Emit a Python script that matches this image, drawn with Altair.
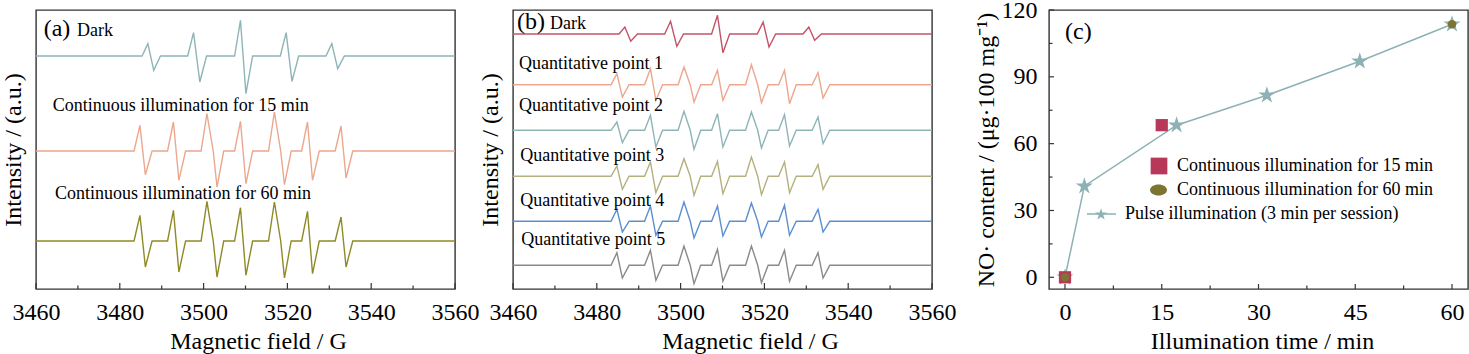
import altair as alt
import pandas as pd

FONT = "Liberation Serif"

# ---------------- data ----------------
# EPR line positions (G): maxima and minima of each derivative line
dark_field_max = [3486.7, 3497.6, 3508.8, 3519.7, 3530.6]
dark_field_min = [3488.1, 3499.1, 3510.1, 3521.1, 3532.0]
seven_field_max = [3484.8, 3492.8, 3500.8, 3508.8, 3516.9, 3524.8, 3532.8]
seven_field_min = [3486.1, 3494.1, 3503.2, 3510.1, 3519.3, 3526.0, 3534.0]
shoulder_index = [2, 4]
shoulder_field = [3502.3, 3518.4]
rise_g = 1.4
fall_g = 1.6
field_start, field_end = 3460, 3560

# panel (a) intensities (a.u.)
a_dark_base = 233
a_dark_top = [245.3, 256.3, 268.7, 256.3, 245.3]
a_dark_bot = [218.7, 207.0, 195.3, 207.7, 220.3]
a_15_base = 138
a_15_top = [163.7, 167.0, 175.3, 167.7, 177.0, 167.0, 163.0]
a_15_bot = [114.3, 108.7, 102.0, 105.3, 104.3, 108.7, 111.0]
a_60_base = 48
a_60_top = [73.7, 78.7, 87.7, 81.3, 87.0, 77.7, 72.0]
a_60_bot = [22.0, 17.0, 12.0, 13.7, 11.0, 15.3, 22.0]

# panel (b) intensities (a.u.)
b_dark_base = 255
b_dark_top = [262.0, 267.7, 273.7, 267.0, 262.0]
b_dark_bot = [247.7, 242.7, 236.3, 242.0, 248.7]
b_q1_base = 204.3
b_q1_top = [215.3, 220.3, 222.0, 218.7, 224.3, 218.7, 216.3]
b_q1_bot = [192.0, 188.7, 187.0, 188.7, 186.3, 185.3, 191.0]
b_q2_base = 158.7
b_q2_top = [167.0, 173.7, 177.7, 175.3, 177.0, 174.3, 172.0]
b_q2_bot = [146.3, 142.0, 139.7, 142.0, 141.0, 143.0, 145.3]
b_q3_base = 112.7
b_q3_top = [123.0, 127.0, 130.3, 127.7, 132.0, 127.0, 124.3]
b_q3_bot = [99.7, 96.3, 93.7, 95.3, 94.3, 96.3, 99.7]
b_q4_base = 67.7
b_q4_top = [79.7, 83.0, 87.0, 83.0, 86.0, 83.7, 79.7]
b_q4_bot = [57.0, 53.7, 51.0, 53.0, 52.0, 53.7, 57.0]
b_q5_base = 23.7
b_q5_top = [36.3, 38.7, 43.0, 39.7, 43.0, 38.7, 36.3]
b_q5_bot = [11.0, 8.7, 5.3, 7.7, 6.3, 7.7, 11.0]

# panel (c)
pulse_time = [0, 3, 17.3, 31.3, 45.7, 60]
pulse_no = [0, 40.9, 68.3, 81.7, 97.0, 113.6]
cont15_time = [0, 15]
cont15_no = [0, 68.3]
cont60_time = [0, 60]
cont60_no = [0, 113.6]

ab_major = [3460, 3480, 3500, 3520, 3540, 3560]
ab_minor = [3470, 3490, 3510, 3530, 3550]
c_x_major = [0, 15, 30, 45, 60]
c_x_minor = [7.5, 22.5, 37.5, 52.5]
c_y_major = [0, 30, 60, 90, 120]
c_y_minor = [15, 45, 75, 105]

a_names = ["Dark", "Continuous illumination for 15 min", "Continuous illumination for 60 min"]
a_colors = ["#8db5b8", "#eca78e", "#8e8a26"]
b_names = ["Dark", "Quantitative point 1", "Quantitative point 2", "Quantitative point 3",
           "Quantitative point 4", "Quantitative point 5"]
b_colors = ["#c25469", "#eca78e", "#8db5b8", "#b5b07f", "#5b8fcf", "#8a8a8a"]

W, H = 419, 279
STAR = ("M0,-1L0.2245,-0.309L0.9511,-0.309L0.3633,0.118L0.5878,0.809L0,0.382"
        "L-0.5878,0.809L-0.3633,0.118L-0.9511,-0.309L-0.2245,-0.309Z")
ELLIPSE = "M-1,0A1,0.65 0 1,0 1,0A1,0.65 0 1,0 -1,0Z"


def spectrum_rows(name, base, fmax, fmin, tops, bots):
    pts = [(field_start, base)]
    shoulders = dict(zip(shoulder_index, shoulder_field)) if len(fmax) == 7 else {}
    for i, (xm, xn, t, b) in enumerate(zip(fmax, fmin, tops, bots)):
        pts.append((xm - rise_g, base))
        pts.append((xm, t))
        if i in shoulders:
            pts.append((shoulders[i], base))
        pts.append((xn, b))
        pts.append((xn + fall_g, base))
    pts.append((field_end, base))
    return [{"series": name, "field": x, "val": y, "idx": k} for k, (x, y) in enumerate(pts)]


rows_a = []
rows_a += spectrum_rows(a_names[0], a_dark_base, dark_field_max, dark_field_min, a_dark_top, a_dark_bot)
rows_a += spectrum_rows(a_names[1], a_15_base, seven_field_max, seven_field_min, a_15_top, a_15_bot)
rows_a += spectrum_rows(a_names[2], a_60_base, seven_field_max, seven_field_min, a_60_top, a_60_bot)
df_a = pd.DataFrame(rows_a).rename(columns={"series": "series_a"})

rows_b = []
rows_b += spectrum_rows(b_names[0], b_dark_base, dark_field_max, dark_field_min, b_dark_top, b_dark_bot)
for nm, base, tp, bt in [
    (b_names[1], b_q1_base, b_q1_top, b_q1_bot),
    (b_names[2], b_q2_base, b_q2_top, b_q2_bot),
    (b_names[3], b_q3_base, b_q3_top, b_q3_bot),
    (b_names[4], b_q4_base, b_q4_top, b_q4_bot),
    (b_names[5], b_q5_base, b_q5_top, b_q5_bot),
]:
    rows_b += spectrum_rows(nm, base, seven_field_max, seven_field_min, tp, bt)
df_b = pd.DataFrame(rows_b).rename(columns={"series": "series_b"})

TICK_COLOR = "#333333"


def label(text, x, y, size, baseline="alphabetic"):
    return alt.Chart(pd.DataFrame({"t": [text]})).mark_text(
        align="left", baseline=baseline, fontSize=size, color="black", font=FONT
    ).encode(x=alt.value(x), y=alt.value(y), text="t:N")


def epr_panel(df, series_col, names, colors, texts, title_x):
    xaxis = alt.Axis(values=ab_major, format="d", ticks=False, domain=False, grid=False,
                     labelFlush=False, labelPadding=11, titlePadding=5,
                     title="Magnetic field / G", titleX=title_x)
    yaxis = alt.Axis(labels=False, ticks=False, domain=False, grid=False,
                     title="Intensity / (a.u.)", titlePadding=11)
    xs = alt.Scale(domain=[field_start, field_end], nice=False, zero=False)
    ys = alt.Scale(domain=[0, H], nice=False, zero=False)
    lines = alt.Chart(df).mark_line(strokeWidth=1.4).encode(
        x=alt.X("field:Q", scale=xs, axis=xaxis),
        y=alt.Y("val:Q", scale=ys, axis=yaxis),
        color=alt.Color(f"{series_col}:N", scale=alt.Scale(domain=names, range=colors), legend=None),
        order="idx:Q",
    )
    tmaj = alt.Chart(pd.DataFrame({"tick": ab_major})).mark_rule(color=TICK_COLOR, strokeWidth=1.2).encode(
        x=alt.X("tick:Q", scale=xs, axis=xaxis), y=alt.value(H), y2=alt.value(H - 6))
    tmin = alt.Chart(pd.DataFrame({"tick": ab_minor})).mark_rule(color=TICK_COLOR, strokeWidth=1.2).encode(
        x=alt.X("tick:Q", scale=xs, axis=xaxis), y=alt.value(H), y2=alt.value(H - 3.5))
    layers = [lines, tmaj, tmin] + texts
    return alt.layer(*layers).properties(width=W, height=H)


panel_a = epr_panel(df_a, "series_a", a_names, a_colors, [
    label("(a)", 7.7, 26, 24),
    label("Dark", 41, 26, 18),
    label("Continuous illumination for 15 min", 16.7, 101, 18),
    label("Continuous illumination for 60 min", 19, 189.3, 18),
], 222)

panel_b = epr_panel(df_b, "series_b", b_names, b_colors, [
    label("(b)", 4, 19.3, 24),
    label("Dark", 37, 18.7, 18),
    label("Quantitative point 1", 6, 58.7, 18),
    label("Quantitative point 2", 6, 101.3, 18),
    label("Quantitative point 3", 7.3, 151, 18),
    label("Quantitative point 4", 7.3, 196, 18),
    label("Quantitative point 5", 8.3, 234.7, 18),
], 237)

# ---------------- panel (c) ----------------
cx = alt.Scale(domain=[-2.48, 62.48], nice=False, zero=False)
cy = alt.Scale(domain=[-5.25, 120], nice=False, zero=False)
cxaxis = alt.Axis(values=c_x_major, ticks=False, domain=False, grid=False, labelPadding=11,
                  labelFlush=False, titlePadding=5, title="Illumination time / min", titleX=213)
cyaxis = alt.Axis(values=c_y_major, ticks=False, domain=False, grid=False, labelPadding=12,
                  labelFlush=False, titlePadding=3, title="NO· content / (μg·100 mg⁻¹)")

STAR_COLOR = "#8db1b5"
SQ_COLOR = "#b8385a"
CIR_COLOR = "#7d7431"

df_pulse = pd.DataFrame({"t": pulse_time, "v": pulse_no})
df_c15 = pd.DataFrame({"t": cont15_time, "v": cont15_no})
df_c60 = pd.DataFrame({"t": cont60_time, "v": cont60_no})

enc = dict(x=alt.X("t:Q", scale=cx, axis=cxaxis), y=alt.Y("v:Q", scale=cy, axis=cyaxis))

pulse_line = alt.Chart(df_pulse).mark_line(color=STAR_COLOR, strokeWidth=1.5).encode(**enc)
pulse_pts = alt.Chart(df_pulse).mark_point(shape=STAR, size=320, filled=True, opacity=1,
                                           color=STAR_COLOR).encode(**enc)
c15_pts = alt.Chart(df_c15).mark_point(shape="square", size=150, filled=True, opacity=1,
                                       color=SQ_COLOR).encode(**enc)
c60_pts = alt.Chart(df_c60).mark_point(shape="circle", size=72, filled=True, opacity=1,
                                       color=CIR_COLOR).encode(**enc)

cxmaj = alt.Chart(pd.DataFrame({"tick": c_x_major})).mark_rule(color=TICK_COLOR, strokeWidth=1.2).encode(
    x=alt.X("tick:Q", scale=cx, axis=cxaxis), y=alt.value(H), y2=alt.value(H - 5))
cxmin = alt.Chart(pd.DataFrame({"tick": c_x_minor})).mark_rule(color=TICK_COLOR, strokeWidth=1.2).encode(
    x=alt.X("tick:Q", scale=cx, axis=cxaxis), y=alt.value(H), y2=alt.value(H - 3.5))
cymaj = alt.Chart(pd.DataFrame({"tick": c_y_major})).mark_rule(color=TICK_COLOR, strokeWidth=1.2).encode(
    y=alt.Y("tick:Q", scale=cy, axis=cyaxis), x=alt.value(0), x2=alt.value(5))
cymin = alt.Chart(pd.DataFrame({"tick": c_y_minor})).mark_rule(color=TICK_COLOR, strokeWidth=1.2).encode(
    y=alt.Y("tick:Q", scale=cy, axis=cyaxis), x=alt.value(0), x2=alt.value(3.5))

legend_df = pd.DataFrame({"k": [0]})
leg_sq = alt.Chart(legend_df).mark_point(shape="square", size=280, filled=True, opacity=1,
                                         color=SQ_COLOR).encode(x=alt.value(110), y=alt.value(156))
leg_ci = alt.Chart(legend_df).mark_point(shape=ELLIPSE, size=289, filled=True, opacity=1,
                                         color=CIR_COLOR).encode(x=alt.value(109.5), y=alt.value(180))
leg_line = alt.Chart(legend_df).mark_rule(color=STAR_COLOR, strokeWidth=1.5).encode(
    x=alt.value(38), x2=alt.value(67), y=alt.value(204))
leg_star = alt.Chart(legend_df).mark_point(shape=STAR, size=160, filled=True, opacity=1,
                                           color=STAR_COLOR).encode(x=alt.value(52), y=alt.value(204.5))

panel_c = alt.layer(
    pulse_line, pulse_pts, c15_pts, c60_pts, cxmaj, cxmin, cymaj, cymin,
    leg_sq, leg_ci, leg_line, leg_star,
    label("(c)", 16, 28.7, 24),
    label("Continuous illumination for 15 min", 128, 156, 18, "middle"),
    label("Continuous illumination for 60 min", 128, 180, 18, "middle"),
    label("Pulse illumination (3 min per session)", 76, 204, 18, "middle"),
).properties(width=W, height=H)

spacer = alt.Chart(pd.DataFrame({"k": [0]})).mark_point(opacity=0).encode(
    x=alt.value(0), y=alt.value(0)
).properties(width=1, height=H, view=alt.ViewBackground(strokeOpacity=0))

chart = alt.hconcat(panel_a, panel_b, spacer, panel_c, spacing=58, bounds="flush").resolve_scale(
    color="independent"
).properties(
    padding={"left": 0, "top": -3, "right": 0, "bottom": 0}
).configure_view(
    stroke="#333333", strokeWidth=1.4
).configure_axis(
    labelFont=FONT, titleFont=FONT, labelFontSize=24, titleFontSize=24,
    labelColor="black", titleColor="black", titleFontWeight="normal"
).configure_text(font=FONT)

chart.save("out.html", embed_options={"renderer": "svg", "actions": False})
